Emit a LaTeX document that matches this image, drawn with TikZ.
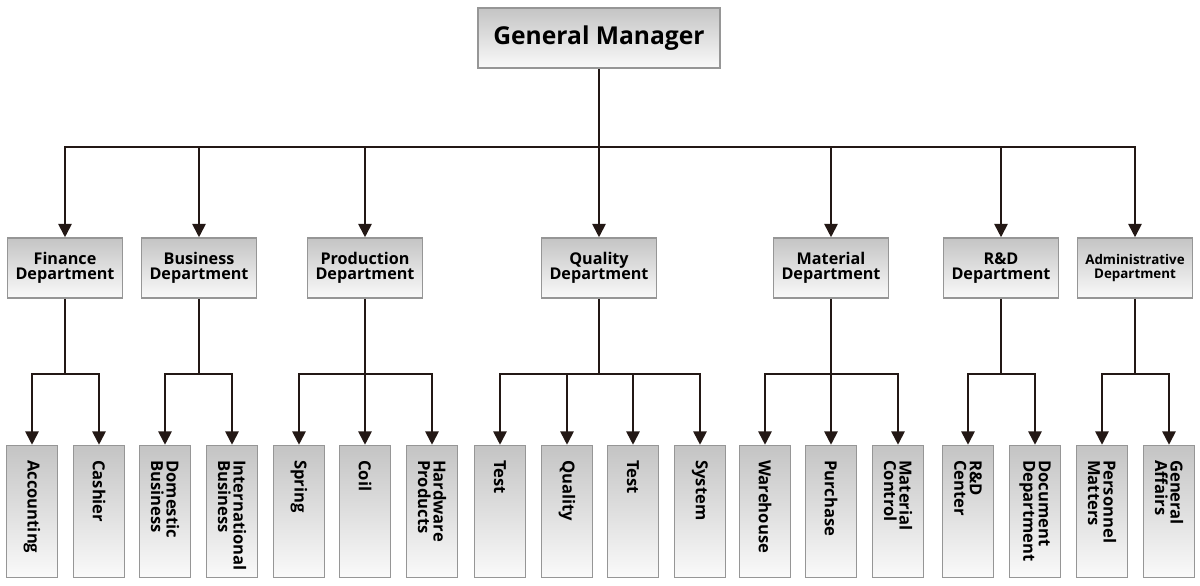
\documentclass[tikz,border=0pt]{standalone}
\usepackage{fontspec}
\setmainfont{Open Sans}
\usetikzlibrary{arrows.meta}
\definecolor{linebrown}{RGB}{35,24,21}
\definecolor{boxgray}{RGB}{196,196,196}
\definecolor{boxlight}{RGB}{250,250,250}
\definecolor{boxborder}{RGB}{150,150,150}

% vertical label, read from top to bottom
\newcommand{\vtext}[1]{\rotatebox{-90}{\parbox{73pt}{\raggedright #1}}}

\tikzset{
  box/.style={draw=boxborder, line width=1.1pt, top color=boxgray, bottom color=boxlight,
              align=center, inner sep=2pt},
  dept/.style={box, minimum width=2.875cm, minimum height=1.5cm,
               font=\bfseries\fontsize{11.5}{11}\selectfont},
  unit/.style={box, minimum width=1.275cm, minimum height=3.3cm, inner sep=0pt,
               font=\bfseries\fontsize{11.8}{11}\selectfont},
  link/.style={draw=linebrown, line width=1.3pt},
  arr/.style={link, -{Triangle[width=9.5pt,length=9.5pt]}},
}

\begin{document}
\begin{tikzpicture}[x=0.025cm, y=-0.025cm]
\useasboundingbox (0,0) rectangle (1200,585);

%---------------------------------------
% Top
%---------------------------------------
\node[box, minimum width=6.05cm, minimum height=1.5cm, font=\bfseries\fontsize{17.5}{19}\selectfont]
  (gm) at (599,38) {General Manager};

%---------------------------------------
% Departments
%---------------------------------------
\node[dept] (fin) at (65,268)   {Finance\\Department};
\node[dept] (bus) at (199,268)  {Business\\Department};
\node[dept] (pro) at (365,268)  {Production\\Department};
\node[dept] (qua) at (599,268)  {Quality\\Department};
\node[dept] (mat) at (831,268)  {Material\\Department};
\node[dept] (rnd) at (1001,268) {R\&D\\Department};
\node[dept, font=\bfseries\fontsize{9.5}{10.5}\selectfont] (adm) at (1135,268) {Administrative\\Department};

%---------------------------------------
% Units
%---------------------------------------
\node[unit] (acc)   at (32,511.5)   {\vtext{Accounting}};
\node[unit] (cash)  at (99,511.5)   {\vtext{Cashier}};
\node[unit] (dom)   at (165,511.5)  {\vtext{Domestic\\Business}};
\node[unit] (intl)  at (232,511.5)  {\vtext{International\\Business}};
\node[unit] (spr)   at (299,511.5)  {\vtext{Spring}};
\node[unit] (coil)  at (365,511.5)  {\vtext{Coil}};
\node[unit] (hw)    at (432,511.5)  {\vtext{Hardware\\Products}};
\node[unit] (testa) at (500,511.5)  {\vtext{Test}};
\node[unit] (qual)  at (567,511.5)  {\vtext{Quality}};
\node[unit] (testb) at (633,511.5)  {\vtext{Test}};
\node[unit] (sys)   at (700,511.5)  {\vtext{System}};
\node[unit] (wh)    at (765,511.5)  {\vtext{Warehouse}};
\node[unit] (pur)   at (831,511.5)  {\vtext{Purchase}};
\node[unit] (mc)    at (898,511.5)  {\vtext{Material\\Control}};
\node[unit] (rdc)   at (968,511.5)  {\vtext{R\&D\\Center}};
\node[unit] (doc)   at (1035,511.5) {\vtext{Document\\Department}};
\node[unit] (pers)  at (1102,511.5) {\vtext{Personnel\\Matters}};
\node[unit] (gen)   at (1169,511.5) {\vtext{General\\Affairs}};

%---------------------------------------
% Connectors
%---------------------------------------
\coordinate (gm bus) at (599,147);
\draw[link] (gm) -- (gm bus);
\draw[arr] (gm bus) -| (fin);
\draw[arr] (gm bus) -| (bus);
\draw[arr] (gm bus) -| (pro);
\draw[arr] (gm bus) -- (qua);
\draw[arr] (gm bus) -| (mat);
\draw[arr] (gm bus) -| (rnd);
\draw[arr] (gm bus) -| (adm);

\coordinate (fin bus) at (65,374);
\draw[link] (fin) -- (fin bus);
\draw[arr] (fin bus) -| (acc);
\draw[arr] (fin bus) -| (cash);

\coordinate (bus bus) at (199,374);
\draw[link] (bus) -- (bus bus);
\draw[arr] (bus bus) -| (dom);
\draw[arr] (bus bus) -| (intl);

\coordinate (pro bus) at (365,374);
\draw[link] (pro) -- (pro bus);
\draw[arr] (pro bus) -| (spr);
\draw[arr] (pro bus) -- (coil);
\draw[arr] (pro bus) -| (hw);

\coordinate (qua bus) at (599,374);
\draw[link] (qua) -- (qua bus);
\draw[arr] (qua bus) -| (testa);
\draw[arr] (qua bus) -| (qual);
\draw[arr] (qua bus) -| (testb);
\draw[arr] (qua bus) -| (sys);

\coordinate (mat bus) at (831,374);
\draw[link] (mat) -- (mat bus);
\draw[arr] (mat bus) -| (wh);
\draw[arr] (mat bus) -- (pur);
\draw[arr] (mat bus) -| (mc);

\coordinate (rnd bus) at (1001,374);
\draw[link] (rnd) -- (rnd bus);
\draw[arr] (rnd bus) -| (rdc);
\draw[arr] (rnd bus) -| (doc);

\coordinate (adm bus) at (1135,374);
\draw[link] (adm) -- (adm bus);
\draw[arr] (adm bus) -| (pers);
\draw[arr] (adm bus) -| (gen);

\end{tikzpicture}
\end{document}
